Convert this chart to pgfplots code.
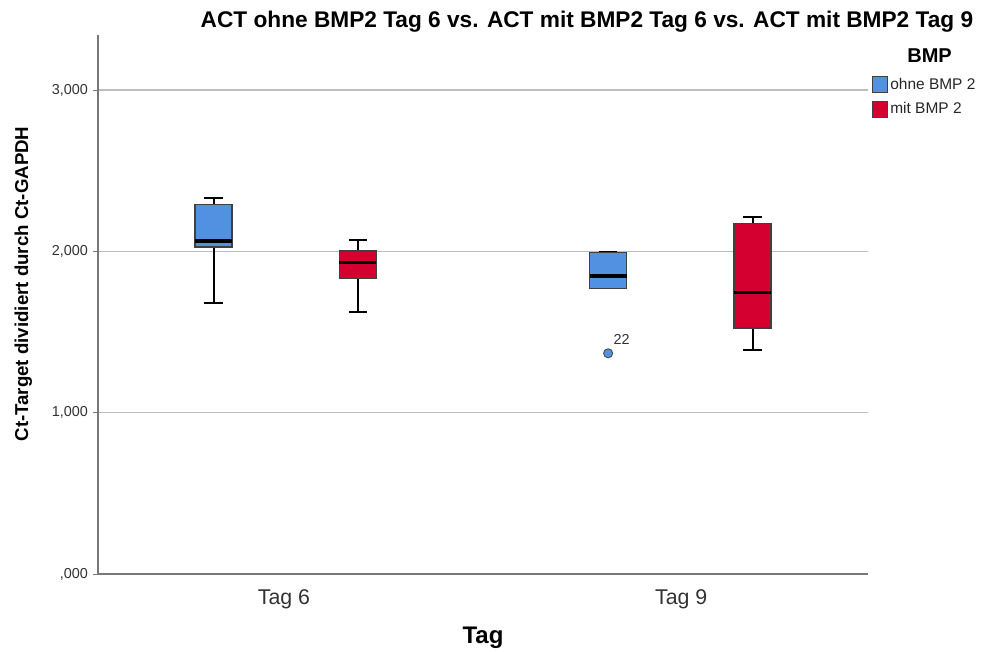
\documentclass[border=0pt]{standalone}
\usepackage{pgfplots}
\pgfplotsset{compat=1.18}
\usepgfplotslibrary{statistics}
\usepackage{fontspec}
\setmainfont{Liberation Sans}
\definecolor{bblue}{RGB}{82,145,226}
\definecolor{bred}{RGB}{212,0,47}
\definecolor{gridg}{RGB}{190,190,190}
\definecolor{axg}{RGB}{120,120,120}
\begin{document}
\begin{tikzpicture}
\path[use as bounding box] (-73.5pt,-58.5pt) rectangle (672.75pt,430.5pt);
\begin{axis}[
  at={(0,0)}, anchor=south west,
  scale only axis, width=577.5pt, height=404.25pt,
  xmin=0, xmax=4, ymin=0, ymax=3.341,
  axis x line*=bottom, axis y line*=left,
  axis line style={axg, line width=0.8pt},
  x axis line style={-}, y axis line style={-},
  xtick={0.966,3.03}, xticklabels={Tag 6, Tag 9},
  xtick style={draw=none},
  xticklabel style={font=\fontsize{16pt}{18pt}\selectfont, text=black!80, yshift=-4pt},
  ytick={0,1,2,3}, yticklabels={{,000},{1,000},{2,000},{3,000}},
  ytick style={axg, line width=0.6pt},
  tick align=outside, major tick length=4pt,
  yticklabel style={font=\fontsize{10.8pt}{12pt}\selectfont, text=black!80},
  ymajorgrids, grid style={gridg, line width=0.8pt},
  xlabel={\textbf{Tag}},
  xlabel style={font=\fontsize{18pt}{20pt}\selectfont, at={(axis description cs:0.5,-0.119)}, anchor=center},
  ylabel={\textbf{Ct-Target dividiert durch Ct-GAPDH}},
  ylabel style={font=\fontsize{14pt}{16pt}\selectfont, at={(axis description cs:-0.097,0.538)}, anchor=center},
  boxplot/draw direction=y,
  boxplot/box extend=0.192,
  boxplot/whisker extend=0.094,
  boxplot/every median/.style={line width=2.4pt, black},
  boxplot/every whisker/.style={line width=1.5pt, black},
  boxplot/every box/.style={draw=black!75, line width=1pt},
  legend style={at={(axis description cs:1.003,0.928)}, anchor=north west, draw=none, fill=none,
    font=\fontsize{11.6pt}{13pt}\selectfont, text=black!85, row sep=4.5pt, inner sep=1pt},
  legend image code/.code={\draw[#1, draw=black!75, line width=0.8pt] (0pt,-6pt) rectangle (11pt,6pt);},
  legend cell align=left,
  clip=false,
]
% ohne BMP 2, Tag 6
\addplot+[mark=none, fill=bblue, draw=black!75, solid,
  boxplot prepared={draw position=0.60, lower whisker=1.680, lower quartile=2.027,
  median=2.064, upper quartile=2.292, upper whisker=2.329}] coordinates {};
\addlegendentry{ohne BMP 2}
% mit BMP 2, Tag 6
\addplot+[mark=none, fill=bred, draw=black!75, solid,
  boxplot prepared={draw position=1.35, lower whisker=1.622, lower quartile=1.833,
  median=1.932, upper quartile=2.002, upper whisker=2.070}] coordinates {};
\addlegendentry{mit BMP 2}
% ohne BMP 2, Tag 9 (outlier 22)
\addplot+[forget plot, fill=bblue, draw=black!75, solid,
  mark=*, mark size=3.4pt, mark options={fill=bblue, draw=black!70, line width=0.7pt},
  boxplot prepared={draw position=2.65, lower whisker=1.771, lower quartile=1.771,
  median=1.847, upper quartile=1.994, upper whisker=1.994}]
  table[row sep=\\, y index=0] {1.368\\};
% mit BMP 2, Tag 9
\addplot+[forget plot, mark=none, fill=bred, draw=black!75, solid,
  boxplot prepared={draw position=3.40, lower whisker=1.390, lower quartile=1.525,
  median=1.746, upper quartile=2.174, upper whisker=2.215}] coordinates {};
\node[font=\fontsize{10.8pt}{12pt}\selectfont, text=black!80, anchor=center] at (axis cs:2.72,1.455) {22};
\node[font=\bfseries\fontsize{15pt}{17pt}\selectfont, anchor=center] at (axis description cs:1.08,0.961) {BMP};
\node[font=\bfseries\fontsize{17pt}{19pt}\selectfont, anchor=center] at (axis description cs:0.635,1.025) {ACT ohne BMP2 Tag 6 vs. ACT mit BMP2 Tag 6 vs. ACT mit BMP2 Tag 9};
\end{axis}
\end{tikzpicture}
\end{document}
